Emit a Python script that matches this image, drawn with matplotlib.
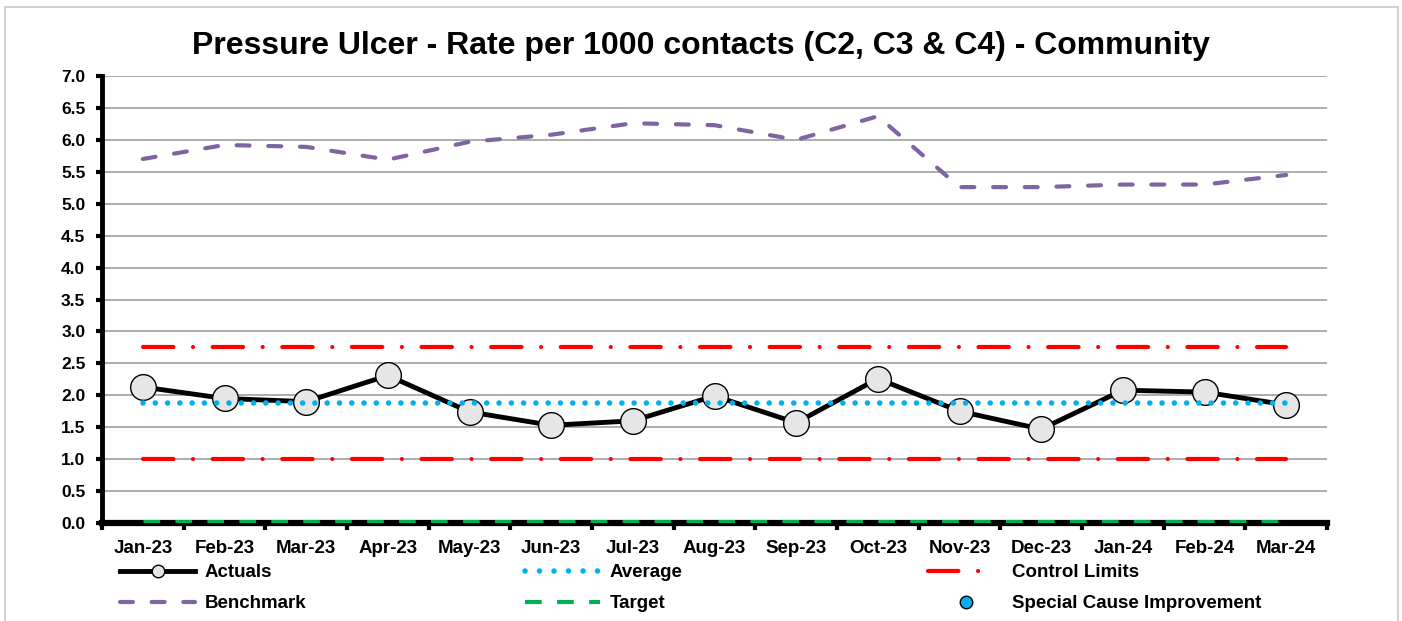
import matplotlib
matplotlib.use("Agg")
import matplotlib.pyplot as plt
from matplotlib.lines import Line2D
from matplotlib.patches import Rectangle

plt.rcParams['font.family'] = ['Liberation Sans', 'DejaVu Sans']
plt.rcParams['font.weight'] = 'bold'

months = ['Jan-23', 'Feb-23', 'Mar-23', 'Apr-23', 'May-23', 'Jun-23', 'Jul-23', 'Aug-23',
          'Sep-23', 'Oct-23', 'Nov-23', 'Dec-23', 'Jan-24', 'Feb-24', 'Mar-24']
actuals = [2.13, 1.95, 1.90, 2.31, 1.74, 1.53, 1.60, 1.99, 1.57, 2.26, 1.75, 1.47, 2.08, 2.05, 1.85]
benchmark = [5.70, 5.92, 5.89, 5.69, 5.97, 6.08, 6.26, 6.23, 6.00, 6.37, 5.26, 5.26, 5.30, 5.30, 5.45]
average = [1.88] * 15
upper_limit = [2.76] * 15
lower_limit = [1.00] * 15
target = [0.0] * 15

x = list(range(len(months)))

fig = plt.figure(figsize=(14.02, 6.21), dpi=100)
ax = fig.add_axes([102 / 1402, 1 - 523 / 621, 1225 / 1402, 447 / 621])

red_dash = (0, (7.3, 4.7, 0.01, 4.7))
purple_dash = (0, (3.1, 4.5))
blue_dot = (0, (0.01, 2.2))
green_dash = (0, (2.4, 2.2))

ax.plot(x, benchmark, color='#8064a2', lw=3, linestyle=purple_dash, dash_capstyle='round', zorder=3)
ax.plot(x, upper_limit, color='#ff0000', lw=3, linestyle=red_dash, dash_capstyle='round', zorder=3)
ax.plot(x, lower_limit, color='#ff0000', lw=3, linestyle=red_dash, dash_capstyle='round', zorder=3)
ax.plot(x, target, color='#00b050', lw=5, linestyle=green_dash, zorder=3)
ax.plot(x, actuals, color='black', lw=3.5, marker='o', markersize=18.5,
        markerfacecolor='#e6e6e6', markeredgecolor='black', markeredgewidth=1, zorder=4)
ax.plot(x, average, color='#00b0f0', lw=4, linestyle=blue_dot, dash_capstyle='round', zorder=5)

ax.set_xlim(-0.5, 14.5)
ax.set_ylim(0, 7)
ax.set_yticks([i * 0.5 for i in range(15)])
ax.set_yticklabels([f'{i * 0.5:.1f}' for i in range(15)])
ax.set_xticks(x)
ax.set_xticklabels(months)
ax.set_xticks([i + 0.5 for i in range(-1, 15)], minor=True)
ax.tick_params(axis='x', which='major', length=0, pad=12, labelsize=13.5)
ax.tick_params(axis='x', which='minor', length=5, width=3, direction='out')
ax.tick_params(axis='y', length=4, width=3, pad=8, labelsize=12.5)
ax.grid(axis='y', color='#a6a6a6', lw=1.3)
ax.set_axisbelow(True)

for s in ['top', 'right']:
    ax.spines[s].set_visible(False)
ax.spines['left'].set_linewidth(3.5)
ax.spines['bottom'].set_linewidth(4.5)

fig.text(0.5, 1 - 46 / 621, 'Pressure Ulcer - Rate per 1000 contacts (C2, C3 & C4) - Community',
         ha='center', va='center', fontsize=23, fontweight='bold')

# frame round the chart
fig.patches.append(Rectangle((5 / 1402, -0.1), 1393 / 1402, 1.1 - 7 / 621, transform=fig.transFigure,
                             fill=False, edgecolor='#c8c8c8', lw=1.2))

h_actual = Line2D([], [], color='black', lw=3.5, marker='o', markersize=9,
                  markerfacecolor='#e6e6e6', markeredgecolor='black', markeredgewidth=1)
h_bench = Line2D([], [], color='#8064a2', lw=3, linestyle=purple_dash, dash_capstyle='round')
h_avg = Line2D([], [], color='#00b0f0', lw=4, linestyle=(0, (0.01, 2.6)), dash_capstyle='round')
h_target = Line2D([], [], color='#00b050', lw=3, linestyle=(0, (4.0, 3.7)))
h_cl = Line2D([], [], color='#ff0000', lw=3, linestyle=(0, (7.3, 4.7, 0.01, 20)), dash_capstyle='round')
h_sc = Line2D([], [], color='none', marker='o', markersize=9, markerfacecolor='#00b0f0',
              markeredgecolor='black', markeredgewidth=1)

leg_kw = dict(loc='upper left', frameon=False, fontsize=13.5, handlelength=4.0,
              handletextpad=0.5, labelspacing=0.75, borderpad=0, borderaxespad=0)
fig.legend([h_actual, h_bench], ['Actuals', 'Benchmark'], bbox_to_anchor=(120 / 1402, 1 - 564 / 621), **leg_kw)
fig.legend([h_avg, h_target], ['Average', 'Target'], bbox_to_anchor=(525 / 1402, 1 - 564 / 621), **leg_kw)
fig.legend([h_cl, h_sc], ['Control Limits', 'Special Cause Improvement'],
           bbox_to_anchor=(928 / 1402, 1 - 564 / 621), **leg_kw)

fig.savefig('out.png', dpi=100)
